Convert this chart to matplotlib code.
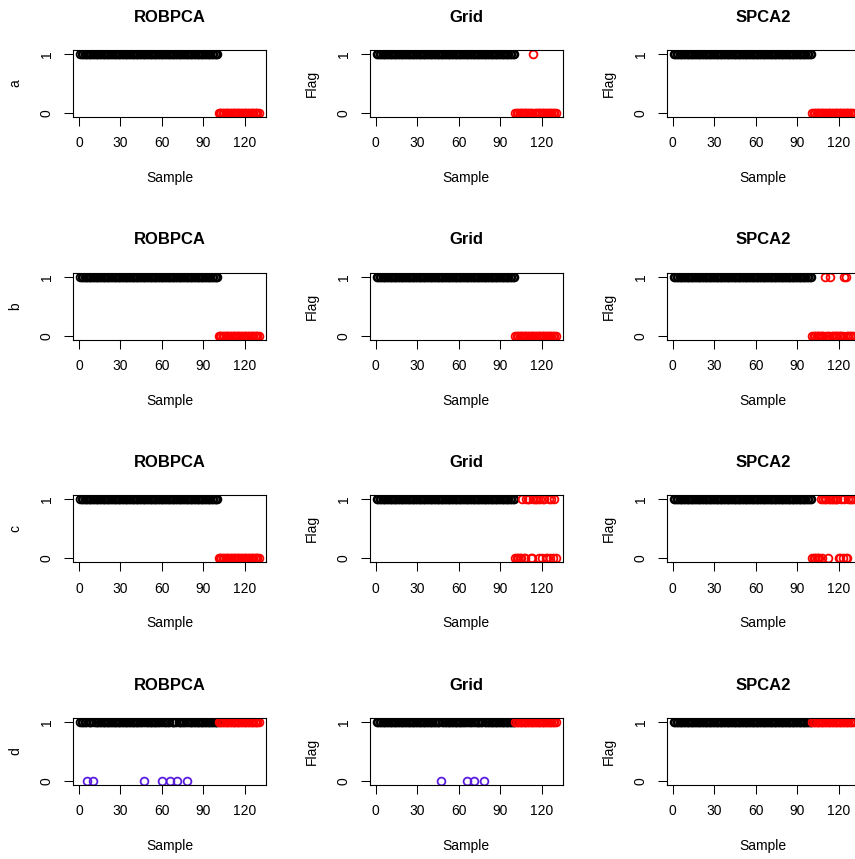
import numpy as np
import matplotlib
matplotlib.use("Agg")
import matplotlib.pyplot as plt

plt.rcParams['font.family'] = ['Liberation Sans', 'DejaVu Sans']

# samples 1..100 are regular, 101..130 are outliers
samples = np.arange(1, 131)
n_regular = 100

methods = ["ROBPCA", "Grid", "SPCA2"]
row_labels = ["a", "b", "c", "d"]

# flag given to outliers in each row (rows a-c: 0, row d: 1)
outlier_flag = [0, 0, 0, 1]

# outliers that got the opposite flag, per row / method
outlier_exceptions = [
    [[], [114], []],
    [[], [], [110, 114, 124, 125]],
    [[],
     [106, 109, 110, 111, 114, 115, 116, 117, 119, 121, 122, 125, 127, 129],
     [107, 109, 110, 111, 113, 114, 115, 116, 117, 118, 119, 122, 124, 127, 128, 129, 130]],
    [[], [], []],
]

# regular samples flagged 0, per row / method
regular_zero = [
    [[], [], []],
    [[], [], []],
    [[], [], []],
    [[6, 10, 47, 60, 66, 71, 78], [47, 66, 71, 78], []],
]

W, H = 855, 859
fig = plt.figure(figsize=(W / 100, H / 100), dpi=100)

col_left = [73.25, 369.95, 666.95]
ax_w = 192.7
row_top = [50, 272.7, 495.3, 718]
ax_h = 67

blue = "#5B1DE0"

for r in range(4):
    for c in range(3):
        left = col_left[c] / W
        bottom = 1 - (row_top[r] + ax_h) / H
        ax = fig.add_axes([left, bottom, ax_w / W, ax_h / H])

        flag = np.ones(len(samples))
        is_out = samples > n_regular
        flag[is_out] = outlier_flag[r]
        for s in outlier_exceptions[r][c]:
            flag[s - 1] = 1 - outlier_flag[r]
        for s in regular_zero[r][c]:
            flag[s - 1] = 0

        reg_ok = (~is_out) & (flag == 1)
        reg_bad = (~is_out) & (flag == 0)
        kw = dict(ls='none', marker='o', mfc='none', ms=5.6, mew=1.3)
        ax.plot(samples[reg_ok], flag[reg_ok], mec='black', **kw)
        ax.plot(samples[reg_bad], flag[reg_bad], mec=blue, **kw)
        ax.plot(samples[is_out], flag[is_out], mec='red', **kw)

        ax.set_xlim(-4.16, 135.16)
        ax.set_ylim(-0.065, 1.07)
        ax.set_xticks([0, 30, 60, 90, 120])
        ax.set_yticks([0, 1])
        ax.set_yticklabels(["0", "1"], rotation=90, va='center')
        ax.tick_params(length=6.5, width=0.75, labelsize=10, pad=7.5, color='black')
        for sp in ax.spines.values():
            sp.set_linewidth(0.8)

        ax.text(0.5, 1 + 33 / ax_h, methods[c], transform=ax.transAxes,
                ha='center', va='center', fontsize=12, fontweight='bold')
        ax.set_xlabel("Sample", fontsize=10, va='center')
        ax.xaxis.set_label_coords(0.5, -61 / ax_h)
        ax.set_ylabel(row_labels[r] if c == 0 else "Flag", fontsize=10, va='center')
        ax.yaxis.set_label_coords(-58 / ax_w, 0.5)

fig.savefig("out.png", dpi=100)
